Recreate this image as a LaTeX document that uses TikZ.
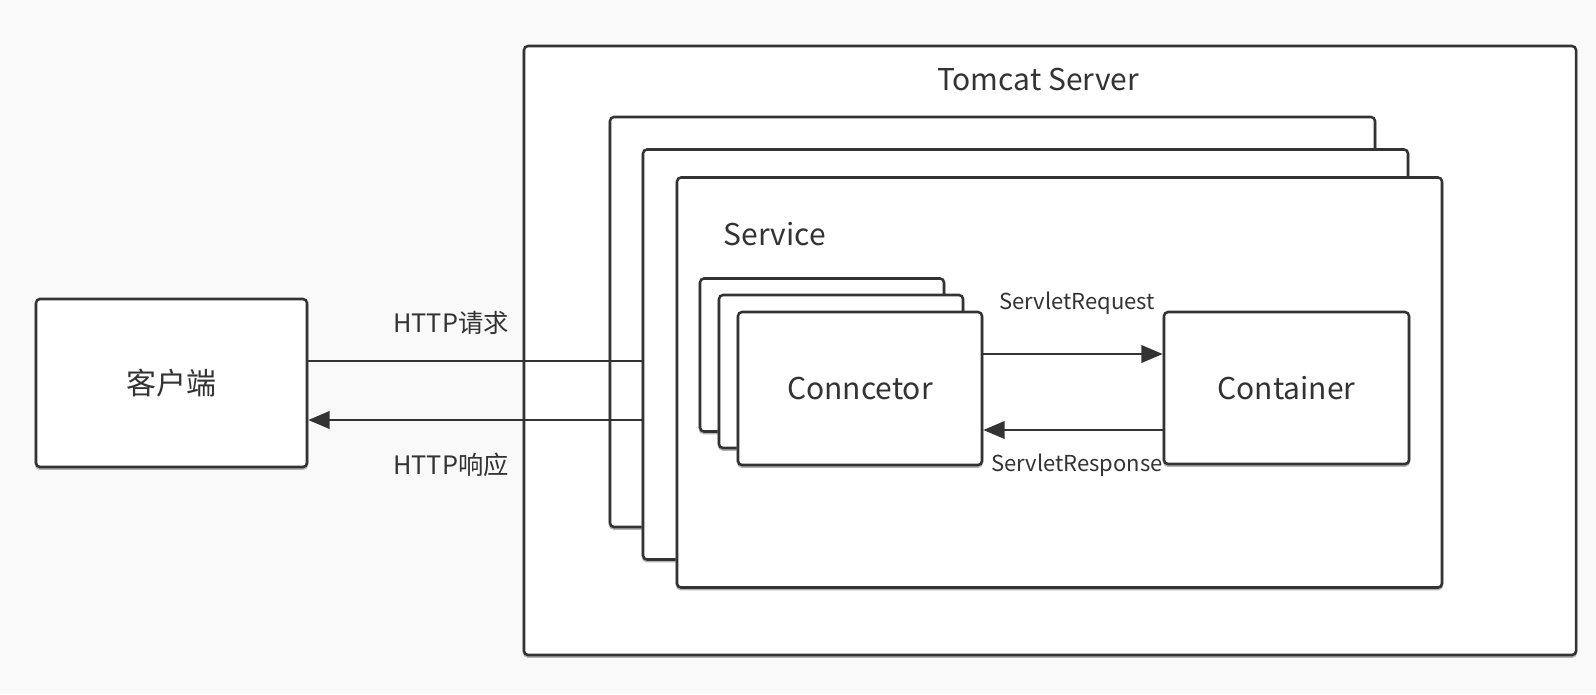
\documentclass[tikz,border=0pt]{standalone}
\usepackage{fontspec}
\setmainfont{Noto Sans CJK SC}
\usetikzlibrary{arrows.meta, positioning, calc}
\definecolor{inkdark}{HTML}{333333}
\definecolor{inkshade}{HTML}{B4B4B4}
\definecolor{paper}{HTML}{F9F9F9}

\begin{document}
\begin{tikzpicture}[x=0.75pt, y=-0.75pt,
    box/.style={draw=inkdark, line width=1.9pt, fill=white,
      rounded corners=3pt, inner sep=0pt,
      preaction={draw=inkshade, transform canvas={yshift=-1.2pt}}},
    sized/.style 2 args={minimum width=#1*0.75pt, minimum height=#2*0.75pt},
    big/.style={font=\fontsize{22.5}{27}\selectfont, text=inkdark},
    mid/.style={font=\fontsize{19}{23}\selectfont, text=inkdark},
    small/.style={font=\fontsize{16.5}{20}\selectfont, text=inkdark},
    flow/.style={draw=inkdark, line width=1.9pt,
      -{Triangle[length=16pt, width=13pt]}}]
  \fill[paper] (0,0) rectangle (1596,694);
  \useasboundingbox (0,0) rectangle (1596,694);

  % server and the stacked services
  \node[box, sized={1052}{609}] (tomcat) at (1050,350.5) {};
  \node[big] (tomcatlbl) at (1038,79) {Tomcat Server};
  \node[box, sized={765}{410}] (svcback) at (992.5,322) {};
  \node[box, sized={765}{410}] (svcmid) at (1025.5,354.5) {};
  \node[box, sized={765}{410}] (svc) at (1059.5,382.5) {};
  \node[big, anchor=west] (svclbl) at (719,234) {Service};

  % connectors and container
  \node[box, sized={244}{153}] (connback) at (822,355) {};
  \node[box, sized={244}{153}] (connmid) at (841,371.5) {};
  \node[box, sized={244}{153}, big] (conn) at (860,388.5) {Conncetor};
  \node[box, sized={245}{152}, big] (container) at (1286.5,388) {Container};

  % client
  \node[box, sized={271}{168}, big] (client) at (171.5,383) {客户端};

  % http traffic
  \coordinate (httpreq) at (0,361);
  \coordinate (httpresp) at (0,420);
  \draw[line width=1.9pt, draw=inkdark] (client.east |- httpreq) -- (svcmid.west |- httpreq);
  \draw[flow] (svcmid.west |- httpresp) -- (client.east |- httpresp);
  \node[mid] (reqlbl) at (451,323) {HTTP请求};
  \node[mid] (resplbl) at (451,465) {HTTP响应};

  % servlet traffic
  \coordinate (svtreq) at (0,354);
  \coordinate (svtresp) at (0,430);
  \draw[flow] (conn.east |- svtreq) -- (container.west |- svtreq);
  \draw[flow] (container.west |- svtresp) -- (conn.east |- svtresp);
  \node[small] (svtreqlbl) at (1077,303) {ServletRequest};
  \node[small] (svtresplbl) at (1077,465) {ServletResponse};
\end{tikzpicture}
\end{document}
